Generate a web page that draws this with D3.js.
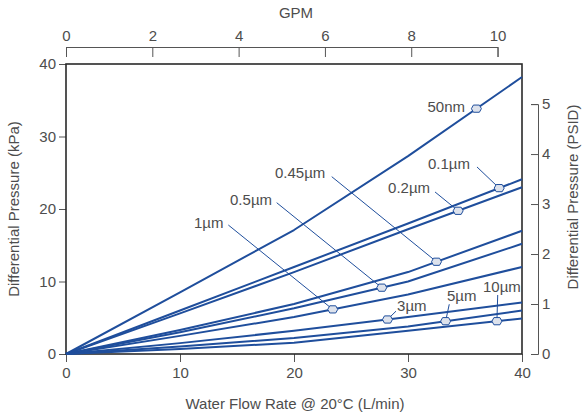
<!DOCTYPE html>
<html>
<head>
<meta charset="utf-8">
<script src="https://cdn.jsdelivr.net/npm/d3@7"></script>
<style>
  html, body { margin: 0; padding: 0; background: #fff; }
  svg { display: block; font-family: "Liberation Sans", Arial, sans-serif; }
</style>
</head>
<body>
<svg id="chart" width="583" height="419"></svg>
<script>
// ---- data ----
const flow = [0, 10, 20, 30, 40];                       // L/min
const seriesNames = ["50nm", "0.1µm", "0.2µm", "0.45µm", "0.5µm", "1µm", "3µm", "5µm", "10µm"];
const p50nm  = [0, 8.5, 17.1, 27.3, 38.2];             // kPa
const p01um  = [0, 6.0, 12.0, 18.0, 24.1];
const p02um  = [0, 5.6, 11.3, 17.2, 23.0];
const p045um = [0, 3.3, 6.9, 11.3, 17.0];
const p05um  = [0, 3.0, 6.3, 10.0, 15.2];
const p1um   = [0, 2.5, 5.1, 8.2, 12.0];
const p3um   = [0, 1.5, 3.2, 5.1, 7.1];
const p5um   = [0, 1.05, 2.2, 3.8, 6.0];
const p10um  = [0, 0.7, 1.55, 3.2, 4.9];
const markerFlow = [36.0, 38.0, 34.4, 32.5, 27.7, 23.4, 28.2, 33.3, 37.8];
// label text anchor (L/min, kPa) and leader start (L/min, kPa); null = no leader
const labelPos   = [[35.0, 33.4], [31.75, 25.5], [28.25, 22.2], [18.33, 24.28], [14.39, 20.55], [11.23, 17.38], [29.04, 5.97], [33.42, 7.35], [36.58, 8.59]];
const leaderFrom = [null, [36.05, 25.8], [32.37, 22.35], [23.31, 24.46], [18.48, 20.87], [14.24, 17.79], [28.95, 5.91], [33.62, 6.86], [37.87, 8.14]];
const xTicks = [0, 10, 20, 30, 40];
const yTicks = [0, 10, 20, 30, 40];
const gpmTicks = [0, 2, 4, 6, 8, 10];
const psiTicks = [0, 1, 2, 3, 4, 5];
const LPM_PER_GPM = 3.78541;
const KPA_PER_PSI = 6.89476;

const seriesValues = [p50nm, p01um, p02um, p045um, p05um, p1um, p3um, p5um, p10um];

// ---- layout ----
const svg = d3.select("#chart");
const L = 66, R = 522, T = 64, B = 354;
const blue = "#1f4e9c";
const textCol = "#4d4d4d";
const axisCol = "#555";
const fs = 15;

const x = d3.scaleLinear().domain([0, 40]).range([L, R]);
const y = d3.scaleLinear().domain([0, 40]).range([B, T]);
const xg = d3.scaleLinear().domain([0, 10]).range([L, x(10 * LPM_PER_GPM)]);
const yp = d3.scaleLinear().domain([0, 5]).range([B, y(5 * KPA_PER_PSI)]);

function styleAxis(g) {
  g.selectAll("path, line").attr("stroke", axisCol).attr("stroke-width", 1);
  g.selectAll("text").attr("fill", textCol).style("font-size", fs + "px")
    .style("font-family", '"Liberation Sans", Arial, sans-serif');
}

// bottom axis
const gx = svg.append("g").attr("transform", `translate(0,${B})`)
  .call(d3.axisBottom(x).tickValues(xTicks).tickSize(8).tickSizeOuter(0).tickPadding(5));
styleAxis(gx);
gx.select(".domain").remove();

// left axis
const gy = svg.append("g").attr("transform", `translate(${L},0)`)
  .call(d3.axisLeft(y).tickValues(yTicks).tickSize(7).tickSizeOuter(0).tickPadding(3));
styleAxis(gy);
gy.select(".domain").remove();

// top GPM axis (ticks down, labels above)
const gt = svg.append("g").attr("transform", `translate(0,47)`)
  .call(d3.axisBottom(xg).tickValues(gpmTicks).tickSize(10).tickSizeOuter(10).tickFormat(d3.format("d")));
styleAxis(gt);
gt.selectAll(".tick text").attr("y", -6).attr("dy", "0");

// right PSI axis
const gr = svg.append("g").attr("transform", `translate(538,0)`)
  .call(d3.axisRight(yp).tickValues(psiTicks).tickSize(-7).tickSizeOuter(-7).tickPadding(4).tickFormat(d3.format("d")));
styleAxis(gr);

// frame
svg.append("rect").attr("x", L).attr("y", T).attr("width", R - L).attr("height", B - T)
  .attr("fill", "none").attr("stroke", "#2a2a2a").attr("stroke-width", 1.6);

// axis titles
svg.append("text").attr("x", 296).attr("y", 18).attr("text-anchor", "middle")
  .attr("fill", textCol).style("font-size", fs + "px").text("GPM");
svg.append("text").attr("x", 295).attr("y", 409).attr("text-anchor", "middle")
  .attr("fill", textCol).style("font-size", fs + "px").text("Water Flow Rate @ 20°C (L/min)");
svg.append("text").attr("transform", `translate(19,${(T + B) / 2}) rotate(-90)`).attr("text-anchor", "middle")
  .attr("fill", textCol).style("font-size", fs + "px").text("Differential Pressure (kPa)");
svg.append("text").attr("transform", `translate(578,${(T + B) / 2 - 12}) rotate(-90)`).attr("text-anchor", "middle")
  .attr("fill", textCol).style("font-size", fs + "px").text("Differential Pressure (PSID)");

// curves
const line = d3.line().x(d => x(d[0])).y(d => y(d[1]));
const plot = svg.append("g");
seriesValues.forEach((vals) => {
  const pts = flow.map((f, i) => [f, vals[i]]);
  plot.append("path").attr("d", line(pts)).attr("fill", "none")
    .attr("stroke", blue).attr("stroke-width", 2).attr("stroke-linejoin", "round");
});

function interp(vals, f) {
  return d3.scaleLinear().domain(flow).range(vals)(f);
}

// leaders, markers, labels
const hex = [[-5, 0], [-3, -3.6], [3, -3.6], [5, 0], [3, 3.6], [-3, 3.6]];
seriesNames.forEach((name, i) => {
  const mf = markerFlow[i];
  const mx = x(mf), my = y(interp(seriesValues[i], mf));
  if (leaderFrom[i]) {
    svg.append("line").attr("x1", x(leaderFrom[i][0])).attr("y1", y(leaderFrom[i][1]))
      .attr("x2", mx).attr("y2", my).attr("stroke", blue).attr("stroke-width", 1);
  }
  svg.append("polygon").attr("points", hex.map(p => [mx + p[0], my + p[1]].join(",")).join(" "))
    .attr("fill", "#dde2ec").attr("stroke", blue).attr("stroke-width", 1)
    .attr("stroke-linejoin", "round");
  svg.append("text").attr("x", x(labelPos[i][0])).attr("y", y(labelPos[i][1]))
    .attr("text-anchor", i === 0 ? "end" : "start")
    .attr("fill", textCol).style("font-size", fs + "px").text(name);
});
</script>
</body>
</html>
